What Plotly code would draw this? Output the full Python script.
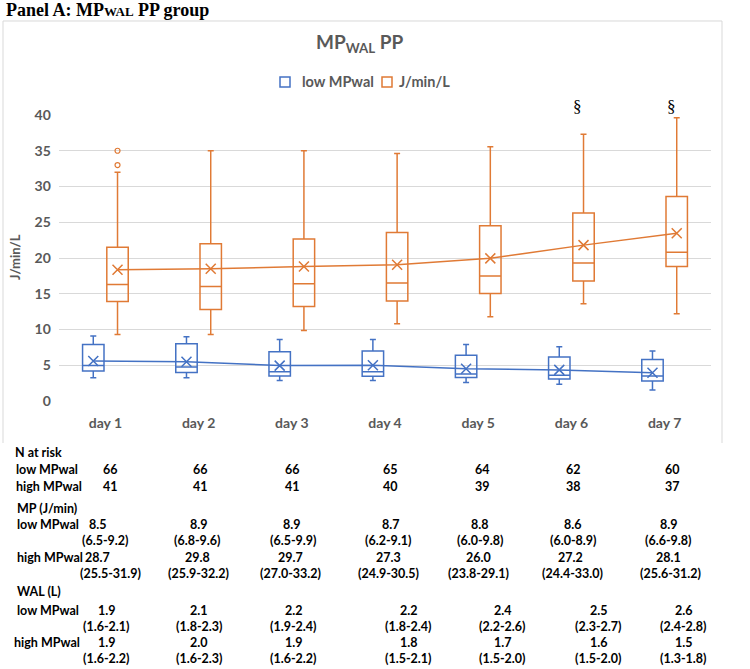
import plotly.graph_objects as go

W, H = 750, 669

# ---------------- data ----------------
days = ["day 1", "day 2", "day 3", "day 4", "day 5", "day 6", "day 7"]

low_lo = [3.25, 3.25, 2.85, 2.85, 2.57, 2.33, 1.55]
low_q1 = [4.2, 4.0, 3.5, 3.45, 3.27, 3.08, 2.8]
low_med = [4.95, 4.75, 4.1, 4.1, 3.78, 3.6, 3.5]
low_q3 = [7.9, 8.0, 6.9, 7.0, 6.4, 6.15, 5.8]
low_hi = [9.1, 9.0, 8.6, 8.6, 7.9, 7.6, 7.0]
low_mean = [5.6, 5.5, 4.95, 5.0, 4.5, 4.35, 3.95]

high_lo = [9.3, 9.3, 9.85, 10.8, 11.8, 13.6, 12.2]
high_q1 = [13.9, 12.8, 13.2, 14.0, 15.05, 16.8, 18.8]
high_med = [16.3, 16.0, 16.4, 16.5, 17.5, 19.3, 20.8]
high_q3 = [21.5, 22.0, 22.65, 23.55, 24.5, 26.3, 28.6]
high_hi = [32.0, 35.0, 35.0, 34.6, 35.55, 37.3, 39.6]
high_mean = [18.35, 18.5, 18.8, 19.05, 19.95, 21.8, 23.45]

outlier_day = ["day 1", "day 1"]
outlier_val = [33.0, 35.0]

signif_days = ["day 6", "day 7"]
signif_mark = ["§", "§"]

n_low = ["66", "66", "66", "65", "64", "62", "60"]
n_high = ["41", "41", "41", "40", "39", "38", "37"]
mp_low = ["8.5", "8.9", "8.9", "8.7", "8.8", "8.6", "8.9"]
mp_low_iqr = ["(6.5-9.2)", "(6.8-9.6)", "(6.5-9.9)", "(6.2-9.1)", "(6.0-9.8)", "(6.0-8.9)", "(6.6-9.8)"]
mp_high = ["28.7", "29.8", "29.7", "27.3", "26.0", "27.2", "28.1"]
mp_high_iqr = ["(25.5-31.9)", "(25.9-32.2)", "(27.0-33.2)", "(24.9-30.5)", "(23.8-29.1)", "(24.4-33.0)", "(25.6-31.2)"]
wal_low = ["1.9", "2.1", "2.2", "2.2", "2.4", "2.5", "2.6"]
wal_low_iqr = ["(1.6-2.1)", "(1.8-2.3)", "(1.9-2.4)", "(1.8-2.4)", "(2.2-2.6)", "(2.3-2.7)", "(2.4-2.8)"]
wal_high = ["1.9", "2.0", "1.9", "1.8", "1.7", "1.6", "1.5"]
wal_high_iqr = ["(1.6-2.2)", "(1.6-2.3)", "(1.6-2.2)", "(1.5-2.1)", "(1.5-2.0)", "(1.5-2.0)", "(1.3-1.8)"]

# ---------------- layout constants ----------------
BLUE = "#4472C4"
ORANGE = "#E07A35"
GRAY = "#595959"
GRID = "#D9D9D9"
FONT = "Lato"

OFF = 0.13          # half distance between grouped boxes (category units)
BOXW = 0.23
PLOT_L, PLOT_R, PLOT_T, PLOT_B = 58.8, 711.2, 115, 401


def px(x):
    return x / W


def py(y):
    return 1 - y / H


idx = {d: i for i, d in enumerate(days)}
x_low = [idx[d] - OFF for d in days]
x_high = [idx[d] + OFF for d in days]

fig = go.Figure()

fig.add_trace(go.Box(
    x=x_low, q1=low_q1, median=low_med, q3=low_q3,
    lowerfence=low_lo, upperfence=low_hi, orientation="v",
    width=BOXW, whiskerwidth=0.28, boxpoints=False,
    line=dict(color=BLUE, width=1.5), fillcolor="rgba(0,0,0,0)",
    name="low MPwal", showlegend=False, hoverinfo="skip"))
fig.add_trace(go.Box(
    x=x_high, q1=high_q1, median=high_med, q3=high_q3,
    lowerfence=high_lo, upperfence=high_hi, orientation="v",
    width=BOXW, whiskerwidth=0.28, boxpoints=False,
    line=dict(color=ORANGE, width=1.5), fillcolor="rgba(0,0,0,0)",
    name="J/min/L", showlegend=False, hoverinfo="skip"))

fig.add_trace(go.Scatter(
    x=x_low, y=low_mean, mode="lines+markers",
    line=dict(color=BLUE, width=1.5),
    marker=dict(symbol="x-thin-open", size=10, line=dict(color=BLUE, width=1.5)),
    showlegend=False, hoverinfo="skip"))
fig.add_trace(go.Scatter(
    x=x_high, y=high_mean, mode="lines+markers",
    line=dict(color=ORANGE, width=1.5),
    marker=dict(symbol="x-thin-open", size=10, line=dict(color=ORANGE, width=1.5)),
    showlegend=False, hoverinfo="skip"))
fig.add_trace(go.Scatter(
    x=[idx[d] + OFF for d in outlier_day], y=outlier_val, mode="markers",
    marker=dict(symbol="circle-open", size=5, color=ORANGE, line=dict(color=ORANGE, width=1.2)),
    showlegend=False, hoverinfo="skip"))

ann = []
# significance marks (placed just above the top of the value axis)
for d, m in zip(signif_days, signif_mark):
    ann.append(dict(x=px(PLOT_L + (idx[d] + 0.5 + OFF - 0.06) * (PLOT_R - PLOT_L) / len(days)),
                    y=py(107), xref="paper", yref="paper", text=m, showarrow=False,
                    xanchor="center", yanchor="middle",
                    font=dict(family="Liberation Serif", size=17, color="black")))

# panel header
ann.append(dict(x=px(4), y=py(10), xref="paper", yref="paper", xanchor="left", yanchor="middle",
                text="<b>Panel A: MP<span style='font-size:13px'>WAL</span> PP group</b>",
                showarrow=False, font=dict(family="Liberation Serif", size=18, color="black")))
# chart title
ann.append(dict(x=px(360), y=py(43), xref="paper", yref="paper", xanchor="center", yanchor="middle",
                text="<b>MP<sub>WAL</sub> PP</b>", showarrow=False,
                font=dict(family=FONT, size=19, color=GRAY)))
# legend
ann.append(dict(x=px(300), y=py(82), xref="paper", yref="paper", xanchor="left", yanchor="middle",
                text="<b>low MPwal</b>", showarrow=False, font=dict(family=FONT, size=14.5, color=GRAY)))
ann.append(dict(x=px(397), y=py(82), xref="paper", yref="paper", xanchor="left", yanchor="middle",
                text="<b>J/min/L</b>", showarrow=False, font=dict(family=FONT, size=14.5, color=GRAY)))
# y axis title
ann.append(dict(x=px(15), y=py(257), xref="paper", yref="paper", xanchor="center", yanchor="middle",
                text="<b>J/min/L</b>", textangle=-90, showarrow=False,
                font=dict(family=FONT, size=13, color=GRAY)))

# ---------------- table below ----------------
col_n = [110, 200, 292, 390, 482, 573, 672]
col_mp_low = [98, 198, 291, 390, 479, 572, 668]
col_mp_low_iqr = [105, 197, 293, 388, 480, 573, 668]
col_mp_high = [97, 197, 290, 388, 478, 570, 668]
col_mp_high_iqr = [110, 198, 290, 388, 478, 572, 670]
col_wal = [106, 199, 293, 408, 502, 598, 683]
row_labels = [("N at risk", 453, 13), ("low MPwal", 470, 14), ("high MPwal", 486, 14),
              ("MP (J/min)", 508, 15), ("low MPwal", 524, 15), ("high MPwal", 557, 15),
              ("WAL (L)", 591, 15), ("low MPwal", 610, 15), ("high MPwal", 642, 12)]
tfont = dict(family=FONT, size=12.5, color="black")
for t, yy, xx in row_labels:
    ann.append(dict(x=px(xx), y=py(yy), xref="paper", yref="paper", xanchor="left", yanchor="middle",
                    text="<b>%s</b>" % t, showarrow=False, font=tfont))
rows = [(n_low, col_n, 470), (n_high, col_n, 486),
        (mp_low, col_mp_low, 524), (mp_low_iqr, col_mp_low_iqr, 540),
        (mp_high, col_mp_high, 557), (mp_high_iqr, col_mp_high_iqr, 573),
        (wal_low, col_wal, 610), (wal_low_iqr, col_wal, 626),
        (wal_high, col_wal, 642), (wal_high_iqr, col_wal, 658)]
for vals, cols, yy in rows:
    for v, cx in zip(vals, cols):
        ann.append(dict(x=px(cx), y=py(yy), xref="paper", yref="paper", xanchor="center",
                        yanchor="middle", text="<b>%s</b>" % v, showarrow=False, font=tfont))

shapes = [
    # chart frame (left, top, right)
    dict(type="path", xref="paper", yref="paper",
         path="M %f %f L %f %f L %f %f L %f %f" % (px(3), py(443), px(3), py(21),
                                                  px(722), py(21), px(722), py(443)),
         line=dict(color=GRID, width=1)),
    # legend icons
    dict(type="rect", xref="paper", yref="paper", x0=px(280), x1=px(290), y0=py(77), y1=py(87),
         line=dict(color=BLUE, width=1.5)),
    dict(type="rect", xref="paper", yref="paper", x0=px(382), x1=px(392), y0=py(77), y1=py(87),
         line=dict(color=ORANGE, width=1.5)),
]

fig.update_layout(
    template="none",
    width=W, height=H, margin=dict(l=0, r=0, t=0, b=0, pad=0, autoexpand=False),
    paper_bgcolor="white", plot_bgcolor="white",
    boxmode="overlay", showlegend=False,
    annotations=ann, shapes=shapes,
    xaxis=dict(domain=[px(PLOT_L), px(PLOT_R)], range=[-0.5, 6.5], automargin=False,
               tickmode="array", tickvals=list(range(len(days))), ticktext=["<b>%s</b>" % d for d in days],
               showgrid=False, zeroline=False, showline=False, ticks="",
               ticklabelstandoff=12,
               tickfont=dict(family=FONT, size=14, color=GRAY)),
    yaxis=dict(domain=[py(PLOT_B), py(PLOT_T)], range=[0, 40], dtick=5, automargin=False,
               showgrid=True, gridcolor=GRID, gridwidth=1, zeroline=False,
               showline=False, ticks="", ticklabelstandoff=7,
               tickprefix="<b>", ticksuffix="</b>",
               tickfont=dict(family=FONT, size=14, color=GRAY)),
)

fig.write_html("out.html", config={"displayModeBar": False},
               post_script="document.documentElement.style.margin='0';"
                           "document.body.style.margin='0';document.body.style.padding='0';"
                           "document.body.style.overflow='hidden';")
